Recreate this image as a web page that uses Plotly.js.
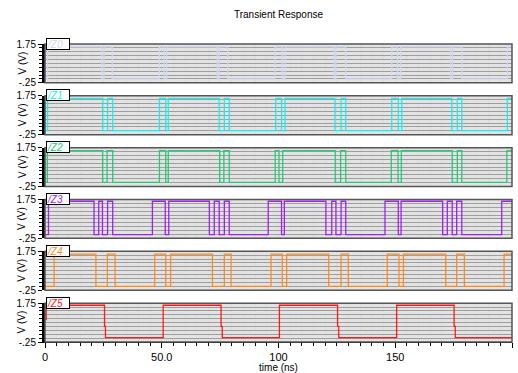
<!DOCTYPE html>
<html>
<head>
<meta charset="utf-8">
<script src="https://cdn.plot.ly/plotly-3.0.1.min.js"></script>
<style>html,body{margin:0;padding:0;background:#fff;}#chart{width:518px;height:373px;}</style>
</head>
<body>
<div id="chart"></div>
<script>
// ---- data (time in ns, voltage in V), stepped waveforms ----
const names = ['/Z0', '/Z1', '/Z2', '/Z3', '/Z4', '/Z5'];
const colors = ['#cfd8ef', '#14f0f0', '#22cc77', '#a020f0', '#ff8c1a', '#ff1a1a'];

const z0_t = [0, 1.1, 24.3, 25.3, 28.8, 49, 51, 52.1, 73.8, 74.6, 78.2, 98.5, 101.6, 102.8, 123.8, 124.6, 128.8, 148.5, 151, 152.3, 173.7, 174.6, 178.5, 198, 200];
const z0_v = [-0.04, 1.6, -0.04, 1.6, -0.04, 1.6, -0.04, 1.6, -0.04, 1.6, -0.04, 1.6, -0.04, 1.6, -0.04, 1.6, -0.04, 1.6, -0.04, 1.6, -0.04, 1.6, -0.04, 1.6, 1.6];

const z1_t = [0, 1.1, 24.7, 26.8, 29, 49, 51.7, 52.8, 74.6, 76.8, 78.9, 98.8, 101.3, 102.8, 124.2, 126.8, 128.8, 148.5, 151.3, 152.8, 174.2, 176.6, 178.5, 198, 200];
const z1_v = [-0.04, 1.62, -0.04, 1.62, -0.04, 1.62, -0.04, 1.62, -0.04, 1.62, -0.04, 1.62, -0.04, 1.62, -0.04, 1.62, -0.04, 1.62, -0.04, 1.62, -0.04, 1.62, -0.04, 1.62, 1.62];

const z2_t = [0, 1.0, 24.7, 26.6, 29, 49, 51.7, 52.8, 74.8, 76.6, 78.9, 98.6, 100.2, 101.8, 124.3, 126.6, 128.8, 148.3, 151.2, 152.6, 174.4, 176.6, 178.5, 197.8, 200];
const z2_v = [-0.04, 1.6, -0.04, 1.6, -0.04, 1.6, -0.04, 1.6, -0.04, 1.6, -0.04, 1.6, -0.04, 1.6, -0.04, 1.6, -0.04, 1.6, -0.04, 1.6, -0.04, 1.6, -0.04, 1.6, 1.6];

const z3_t = [0, 1.5, 21, 23, 24.6, 26.8, 29, 46, 51.5, 53, 70.4, 72.5, 74.6, 76.8, 78.9, 95.6, 101.3, 102.5, 120.3, 122.8, 124.6, 126.8, 128.8, 145.6, 151.3, 152.5, 170.3, 172.3, 174.4, 176.3, 178.5, 195.6, 200];
const z3_v = [-0.06, 1.66, -0.06, 1.66, -0.06, 1.66, -0.06, 1.66, -0.06, 1.66, -0.06, 1.66, -0.06, 1.66, -0.06, 1.66, -0.06, 1.66, -0.06, 1.66, -0.06, 1.66, -0.06, 1.66, -0.06, 1.66, -0.06, 1.66, -0.06, 1.66, -0.06, 1.66, 1.66];

const z4_t = [0, 3.9, 21.8, 26.7, 30, 47, 51.7, 53.8, 71.7, 76.8, 79.7, 96.8, 101.6, 103.5, 121.5, 126.8, 129.9, 146.6, 151.6, 153.5, 171.6, 176.3, 179.6, 196.6, 200];
const z4_v = [-0.05, 1.6, -0.05, 1.6, -0.05, 1.6, -0.05, 1.6, -0.05, 1.6, -0.05, 1.6, -0.05, 1.6, -0.05, 1.6, -0.05, 1.6, -0.05, 1.6, -0.05, 1.6, -0.05, 1.6, 1.6];

const z5_t = [0, 0.5, 25.5, 25.9, 50.6, 75.4, 75.9, 100.4, 125.3, 125.8, 150.6, 175.2, 175.7, 200];
const z5_v = [0.9, 1.64, 0.55, -0.03, 1.64, 0.55, -0.03, 1.64, 0.55, -0.03, 1.64, 0.55, -0.03, -0.03];

const xTickVals = [0, 50, 100, 150, 200];
const xTickText = ['0', '50.0', '100', '150', '200'];
const yTickVals = [-0.25, 1.75];
const yTickText = ['-.25', '1.75'];

const series = [[z0_t, z0_v], [z1_t, z1_v], [z2_t, z2_v], [z3_t, z3_v], [z4_t, z4_v], [z5_t, z5_v]];

// ---- layout geometry ----
const W = 518, Hh = 373;
const mL = 45, mR = 6, mT = 43.5, mB = 30.5;
const plotH = Hh - mT - mB;      // 299
const panelH = 39, pitch = 52;
const plotW = W - mL - mR;

const font = 'Liberation Sans, Arial, sans-serif';
const traces = [];
const layout = {
  width: W, height: Hh,
  margin: {l: mL, r: mR, t: mT, b: mB, pad: 0},
  paper_bgcolor: '#ffffff',
  plot_bgcolor: '#e3e3e3',
  showlegend: false,
  font: {family: font, size: 10, color: '#000'},
  title: {text: 'Transient Response', font: {family: font, size: 10, color: '#000'},
          x: 0.5, xref: 'paper', y: 1 - 14 / Hh, yref: 'container', yanchor: 'middle'},
  shapes: [], annotations: []
};

for (let i = 0; i < 6; i++) {
  const n = i + 1;
  const top = 1 - (i * pitch) / plotH;
  const bot = top - panelH / plotH;
  const xa = 'xaxis' + (n === 1 ? '' : n), ya = 'yaxis' + (n === 1 ? '' : n);
  const xr = 'x' + (n === 1 ? '' : n), yr = 'y' + (n === 1 ? '' : n);
  const last = (n === 6);
  traces.push({
    type: 'scatter', mode: 'lines', x: series[i][0], y: series[i][1],
    xaxis: xr, yaxis: yr, line: {color: colors[i], width: 1.3, shape: 'hv'},
    hoverinfo: 'skip', name: names[i]
  });
  layout[xa] = {
    domain: [0, 1], anchor: yr, range: [0, 200], fixedrange: true,
    showgrid: false, zeroline: false,
    showline: last, linecolor: '#000', linewidth: 1,
    tickmode: 'array', tickvals: xTickVals, ticktext: xTickText,
    showticklabels: last, ticks: last ? 'outside' : '', ticklen: 5, tickcolor: '#000',
    tickfont: {family: font, size: 11, color: '#000'},
    minor: {tickmode: 'linear', tick0: 0, dtick: 5, ticks: last ? 'outside' : '', ticklen: 3, tickcolor: '#000',
            showgrid: true, gridcolor: '#dadada', griddash: 'dot', gridwidth: 1},
    title: last ? {text: 'time (ns)', font: {family: font, size: 10, color: '#000'}, standoff: 2} : {text: ''}
  };
  if (!last) layout[xa].matches = 'x6';
  layout[ya] = {
    domain: [bot, top], anchor: xr, range: [-0.25, 1.75], fixedrange: true,
    showgrid: false, zeroline: false,
    showline: true, linecolor: '#000', linewidth: 3,
    tickmode: 'array', tickvals: yTickVals, ticktext: yTickText,
    ticks: 'outside', ticklen: 4, tickcolor: '#000', tickwidth: 1,
    tickfont: {family: font, size: 10, color: '#000'},
    minor: {tickmode: 'linear', tick0: -0.25, dtick: 0.2, ticks: 'outside', ticklen: 3, tickcolor: '#000',
            showgrid: true, gridcolor: '#9e9e9e', gridwidth: 1}
  };
  // panel frame
  layout.shapes.push({type: 'rect', xref: xr + ' domain', yref: yr + ' domain', x0: 0, x1: 1, y0: 0, y1: 1,
                      line: {color: '#555', width: 1.5}, layer: 'above'});
  // tab label
  layout.annotations.push({
    xref: xr + ' domain', yref: yr + ' domain', x: 0.002, y: 1 + 6.5 / panelH,
    xanchor: 'left', yanchor: 'top', showarrow: false,
    text: names[i], font: {family: font, size: 10, color: colors[i], style: 'italic'},
    bgcolor: '#ffffff', bordercolor: '#000', borderwidth: 1, borderpad: 0,
    width: 22, height: 10, align: 'left', valign: 'middle'
  });
  // y title
  layout.annotations.push({
    xref: 'paper', yref: yr + ' domain', x: (22 - mL) / plotW, y: 0.5,
    xanchor: 'center', yanchor: 'middle', showarrow: false, textangle: -90,
    text: 'V (V)', font: {family: font, size: 10, color: '#000'}
  });
}

Plotly.newPlot('chart', traces, layout, {staticPlot: true, displayModeBar: false});
</script>
</body>
</html>
